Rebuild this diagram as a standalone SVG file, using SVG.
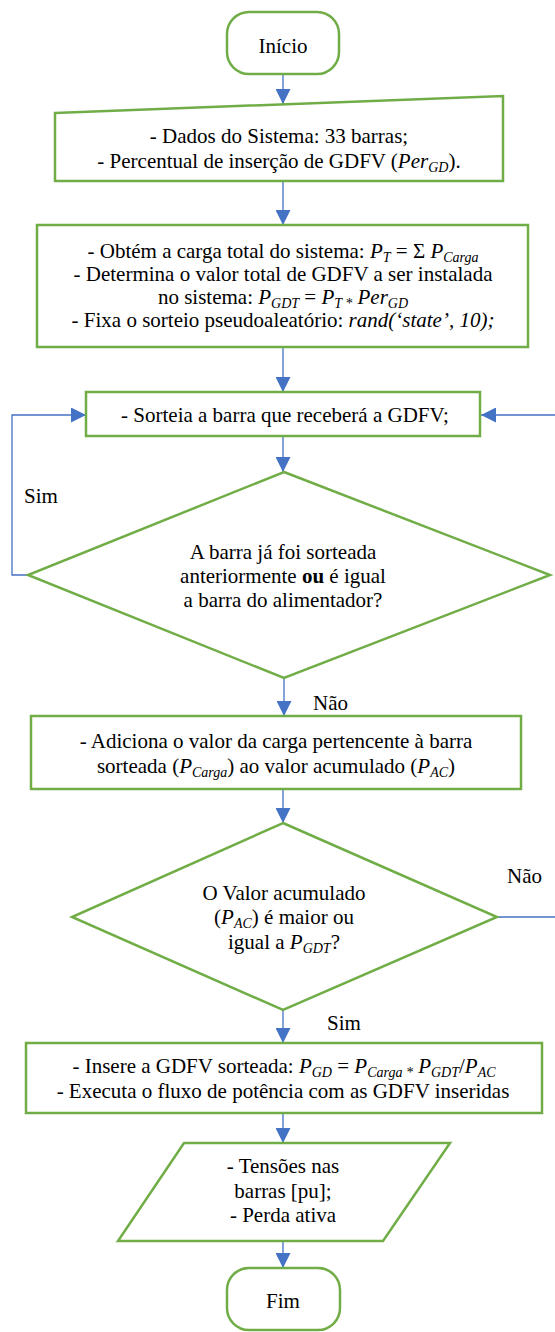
<svg xmlns="http://www.w3.org/2000/svg" width="555" height="1332" viewBox="0 0 555 1332">
<style>
.n{fill:#fff;stroke:#70AD47;stroke-width:2.5}
.c{stroke:#4472C4;stroke-width:1.3;fill:none}
.t,.l{font-family:'Liberation Serif',Tinos,'Times New Roman',Times,'DejaVu Serif','Noto Serif',FreeSerif,serif;font-size:21px;fill:#000}
.t{text-anchor:middle}
.i{font-style:italic}
.s{font-size:14px;font-style:italic}
</style>
<defs>
<marker id="a" markerUnits="userSpaceOnUse" markerWidth="15" markerHeight="15" refX="15" refY="7.5" orient="auto">
<path d="M0,0 L15,7.5 L0,15 z" fill="#4472C4"/>
</marker>
</defs>
<g id="connectors">
<path class="c" d="M283,74 V104" marker-end="url(#a)"/>
<path class="c" d="M283,181 V225" marker-end="url(#a)"/>
<path class="c" d="M283,347 V392" marker-end="url(#a)"/>
<path class="c" d="M283,436 V472" marker-end="url(#a)"/>
<path class="c" d="M28,575 H12 V415 H86" marker-end="url(#a)"/>
<path class="c" d="M497,917 H560 V415 H481" marker-end="url(#a)"/>
<path class="c" d="M284,678 V716" marker-end="url(#a)"/>
<path class="c" d="M283,789 V823" marker-end="url(#a)"/>
<path class="c" d="M283,1010 V1043" marker-end="url(#a)"/>
<path class="c" d="M283,1113 V1143" marker-end="url(#a)"/>
<path class="c" d="M283,1241 V1268" marker-end="url(#a)"/>
<text class="l" x="24" y="503">Sim</text>
<text class="l" x="313" y="710">Não</text>
<text class="l" x="507" y="883">Não</text>
<text class="l" x="327" y="1030">Sim</text>
</g>
<g id="inicio">
<rect class="n" x="227" y="12" width="112" height="62" rx="22" ry="22"/>
<text class="t" x="283" y="53">Início</text>
</g>
<g id="dados">
<path class="n" d="M55,113 L503,96 L503,181 L55,181 Z"/>
<text class="t" x="279" y="143">- Dados do Sistema: 33 barras;</text>
<text class="t" x="279" y="168">- Percentual de inserção de GDFV (<tspan class="i">Per</tspan><tspan class="s" dy="4">GD</tspan><tspan dy="-4">).</tspan></text>
</g>
<g id="carga">
<rect class="n" x="37" y="225" width="491" height="122"/>
<text class="t" x="283" y="258">- Obtém a carga total do sistema: <tspan class="i">P</tspan><tspan class="s" dy="4">T</tspan><tspan dy="-4"> = Σ </tspan><tspan class="i">P</tspan><tspan class="s" dy="4">Carga</tspan></text>
<text class="t" x="283" y="281">- Determina o valor total de GDFV a ser instalada</text>
<text class="t" x="283" y="304">no sistema: <tspan class="i">P</tspan><tspan class="s" dy="4">GDT</tspan><tspan dy="-4"> = </tspan><tspan class="i">P</tspan><tspan class="s" dy="4">T *</tspan><tspan class="i" dy="-4"> Per</tspan><tspan class="s" dy="4">GD</tspan></text>
<text class="t" x="283" y="327">- Fixa o sorteio pseudoaleatório: <tspan class="i">rand(‘state’, 10);</tspan></text>
</g>
<g id="sorteia">
<rect class="n" x="86" y="392" width="394" height="44"/>
<text class="t" x="285" y="422">- Sorteia a barra que receberá a GDFV;</text>
</g>
<g id="decisao1">
<path class="n" d="M284,472 L550,575 L284,678 L28,575 Z"/>
<text class="t" x="283" y="559">A barra já foi sorteada</text>
<text class="t" x="283" y="583">anteriormente <tspan font-weight="bold">ou</tspan> é igual</text>
<text class="t" x="283" y="607">a barra do alimentador?</text>
</g>
<g id="adiciona">
<rect class="n" x="31" y="716" width="490" height="73"/>
<text class="t" x="276" y="748">- Adiciona o valor da carga pertencente à barra</text>
<text class="t" x="276" y="773">sorteada (<tspan class="i">P</tspan><tspan class="s" dy="4">Carga</tspan><tspan dy="-4">) ao valor acumulado (</tspan><tspan class="i">P</tspan><tspan class="s" dy="4">AC</tspan><tspan dy="-4">)</tspan></text>
</g>
<g id="decisao2">
<path class="n" d="M283,823 L497,917 L283,1010 L72,917 Z"/>
<text class="t" x="284" y="900">O Valor acumulado</text>
<text class="t" x="284" y="924">(<tspan class="i">P</tspan><tspan class="s" dy="4">AC</tspan><tspan dy="-4">) é maior ou</tspan></text>
<text class="t" x="284" y="949">igual a <tspan class="i">P</tspan><tspan class="s" dy="4">GDT</tspan><tspan dy="-4">?</tspan></text>
</g>
<g id="insere">
<rect class="n" x="26" y="1043" width="516" height="70"/>
<text class="t" x="284" y="1073">- Insere a GDFV sorteada: <tspan class="i">P</tspan><tspan class="s" dy="4">GD</tspan><tspan dy="-4"> = </tspan><tspan class="i">P</tspan><tspan class="s" dy="4">Carga *</tspan><tspan class="i" dy="-4"> P</tspan><tspan class="s" dy="4">GDT</tspan><tspan dy="-4">/</tspan><tspan class="i">P</tspan><tspan class="s" dy="4">AC</tspan></text>
<text class="t" x="283" y="1098">- Executa o fluxo de potência com as GDFV inseridas</text>
</g>
<g id="saida">
<path class="n" d="M184,1143 L450,1143 L383,1241 L118,1241 Z"/>
<text class="t" x="283" y="1173">- Tensões nas</text>
<text class="t" x="283" y="1198">barras [pu];</text>
<text class="t" x="283" y="1222">- Perda ativa</text>
</g>
<g id="fim">
<rect class="n" x="227" y="1268" width="113" height="62" rx="22" ry="22"/>
<text class="t" x="283" y="1308">Fim</text>
</g>
</svg>
